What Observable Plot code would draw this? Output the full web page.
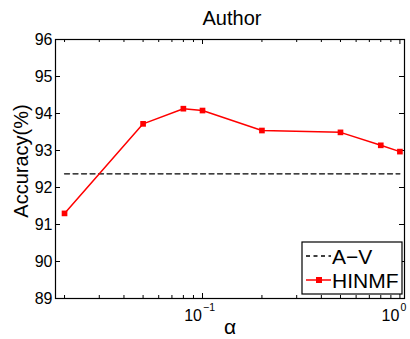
<!DOCTYPE html>
<html>
<head>
<meta charset="utf-8">
<script src="https://cdn.jsdelivr.net/npm/d3@7"></script>
<script src="https://cdn.jsdelivr.net/npm/@observablehq/plot@0.6"></script>
<style>
  html, body { margin: 0; padding: 0; background: #fff; }
  #wrap { position: relative; width: 410px; height: 339px; font-family: "Liberation Sans", Arial, sans-serif; }
  #legend { position: absolute; }
</style>
</head>
<body>
<div id="wrap"></div>
<script>
// Data
const alpha = [0.02, 0.05, 0.08, 0.1, 0.2, 0.5, 0.8, 1.0];
const hinmf = [91.30, 93.72, 94.13, 94.08, 93.54, 93.49, 93.14, 92.97];
const avX = [0.02, 1.0];
const avValue = 92.37;
const yTicks = [89, 90, 91, 92, 93, 94, 95, 96];
const xMajor = [0.1, 1];
const xMinor = [0.02, 0.03, 0.04, 0.05, 0.06, 0.07, 0.08, 0.09, 0.2, 0.3, 0.4, 0.5, 0.6, 0.7, 0.8, 0.9];
const xLabelBase = ["10", "10"];
const xLabelExp = ["\u22121", "0"];
const seriesNames = ["A\u2212V", "HINMF"];

const W = 410, H = 339;
const mL = 55, mR = 6, mT = 39, mB = 41;
const fw = W - mL - mR, fh = H - mT - mB;
const font = "Liberation Sans, Arial, sans-serif";

const hData = alpha.map((a, i) => ({a, v: hinmf[i]}));
const avData = avX.map(a => ({a, v: avValue}));

const chart = Plot.plot({
  width: W, height: H,
  marginLeft: mL, marginRight: mR, marginTop: mT, marginBottom: mB,
  style: {fontFamily: font, background: "#fff", color: "#000"},
  x: {type: "log", domain: [0.018, 1.055], axis: null},
  y: {domain: [89, 96], axis: null},
  marks: [
    // tick marks (inside, box style)
    Plot.tickX(xMajor, {x: d => d, insetTop: fh - 5, stroke: "#000"}),
    Plot.tickX(xMajor, {x: d => d, insetBottom: fh - 5, stroke: "#000"}),
    Plot.tickX(xMinor, {x: d => d, insetTop: fh - 3, stroke: "#000"}),
    Plot.tickX(xMinor, {x: d => d, insetBottom: fh - 3, stroke: "#000"}),
    Plot.tickY(yTicks, {y: d => d, insetRight: fw - 5, stroke: "#000"}),
    Plot.tickY(yTicks, {y: d => d, insetLeft: fw - 5, stroke: "#000"}),
    // y tick labels
    Plot.text(yTicks, {y: d => d, text: d => String(d), frameAnchor: "left", dx: -3, textAnchor: "end", fontSize: 16, fill: "#000"}),
    // x tick labels
    Plot.text(xMajor, {x: d => d, text: (d, i) => xLabelBase[i], frameAnchor: "bottom", lineAnchor: "middle", dy: 17.5, dx: -0.5, textAnchor: "end", fontSize: 16, fill: "#000"}),
    Plot.text(xMajor, {x: d => d, text: (d, i) => xLabelExp[i], frameAnchor: "bottom", lineAnchor: "middle", dy: 9, dx: 0.5, textAnchor: "start", fontSize: 10.5, fill: "#000"}),
    // A-V dashed line
    Plot.line(avData, {x: "a", y: "v", stroke: "#000", strokeWidth: 1.3, strokeDasharray: "5,3.5"}),
    // HINMF line + markers
    Plot.line(hData, {x: "a", y: "v", stroke: "#ff0000", strokeWidth: 1.5}),
    Plot.dot(hData, {x: "a", y: "v", symbol: "square", r: 3.2, fill: "#ff0000", stroke: "none"}),
    Plot.frame({stroke: "#000", strokeWidth: 1.2}),
    // title & axis labels
    Plot.text(["Author"], {frameAnchor: "top", lineAnchor: "middle", dy: -20.5, dx: 2, fontSize: 20, fill: "#000"}),
    Plot.text(["\u03b1"], {frameAnchor: "bottom", lineAnchor: "middle", dy: 28.5, fontSize: 21, fill: "#000"}),
    Plot.text(["Accuracy(%)"], {frameAnchor: "left", textAnchor: "middle", lineAnchor: "middle", dx: -33.5, dy: -8, rotate: -90, fontSize: 20, fill: "#000"})
  ]
});

const wrap = document.getElementById("wrap");
wrap.appendChild(chart);

// Legend overlay
const lx = 302, ly = 242, lw = 100, lh = 52;
const leg = d3.select(wrap).append("svg")
  .attr("id", "legend")
  .attr("width", lw + 2).attr("height", lh + 2)
  .style("left", (lx - 1) + "px").style("top", (ly - 1) + "px");
leg.append("rect").attr("x", 1).attr("y", 1).attr("width", lw).attr("height", lh)
  .attr("fill", "#fff").attr("stroke", "#000").attr("stroke-width", 1.2);
const rows = [
  {y: 15, name: seriesNames[0], color: "#000", dash: "4,3.5", marker: false},
  {y: 39, name: seriesNames[1], color: "#ff0000", dash: null, marker: true}
];
rows.forEach(r => {
  leg.append("line").attr("x1", 5).attr("x2", 30).attr("y1", r.y).attr("y2", r.y)
    .attr("stroke", r.color).attr("stroke-width", r.marker ? 1.5 : 1.3)
    .attr("stroke-dasharray", r.dash);
  if (r.marker) leg.append("rect").attr("x", 15).attr("y", r.y - 3).attr("width", 6).attr("height", 6).attr("fill", r.color);
  leg.append("text").attr("x", 31).attr("y", r.y + 7.5).attr("font-family", font).attr("font-size", 21)
    .attr("fill", "#000").text(r.name);
});
</script>
</body>
</html>
